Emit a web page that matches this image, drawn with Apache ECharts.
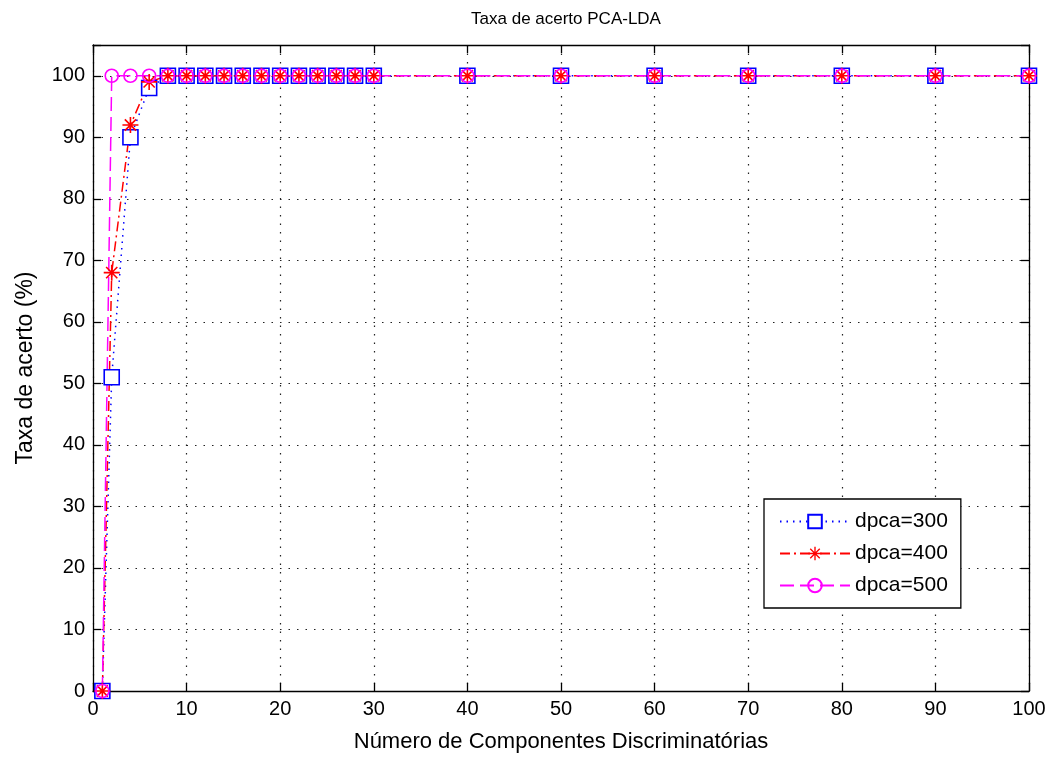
<!DOCTYPE html>
<html><head><meta charset="utf-8">
<script src="https://cdn.jsdelivr.net/npm/echarts@6/dist/echarts.min.js"></script>
<style>html,body{margin:0;padding:0;background:#fff}#c{width:1051px;height:758px}</style>
</head><body><div id="c"></div>
<script>
const xValues = [1,2,4,6,8,10,12,14,16,18,20,22,24,26,28,30,40,50,60,70,80,90,100];
const dpca300 = [0,51,90,98,100,100,100,100,100,100,100,100,100,100,100,100,100,100,100,100,100,100,100];
const dpca400 = [0,68,92,99,100,100,100,100,100,100,100,100,100,100,100,100,100,100,100,100,100,100,100];
const dpca500 = [0,100,100,100,100,100,100,100,100,100,100,100,100,100,100,100,100,100,100,100,100,100,100];
const seriesNames = ['dpca=300','dpca=400','dpca=500'];
const titleText = 'Taxa de acerto PCA-LDA';
const xName = 'Número de Componentes Discriminatórias';
const yName = 'Taxa de acerto (%)';

const star = 'path://M-1,-10 L1,-10 L1,10 L-1,10 Z M-10,-1 L10,-1 L10,1 L-10,1 Z M-6.3,-7.7 L7.7,6.3 L6.3,7.7 L-7.7,-6.3 Z M-7.7,6.3 L6.3,-7.7 L7.7,-6.3 L-6.3,7.7 Z';
const pair = arr => xValues.map((x,i)=>[x,arr[i]]);
const FONT = 'Liberation Sans, Arial, sans-serif';
const chart = echarts.init(document.getElementById('c'), null, {renderer:'canvas'});
function line(){ return {show:true,onZero:false,lineStyle:{color:'#000',width:1.3}}; }
function tick(){ return {show:true,inside:true,length:8,lineStyle:{color:'#000',width:1.3}}; }
const gridDots = {show:true,lineStyle:{color:'#222',type:[1.5,7],width:1.2}};
chart.setOption({
  animation:false,
  backgroundColor:'#fff',
  textStyle:{fontFamily:FONT},
  title:{text:titleText,left:561,top:6,textAlign:'center',textStyle:{fontFamily:FONT,fontSize:17,fontWeight:'normal',color:'#000'}},
  grid:{left:93,right:22,top:45,bottom:65},
  legend:{
    left:764,top:499,orient:'vertical',
    data:seriesNames,
    itemWidth:70,itemHeight:17,itemGap:11,
    padding:[12,13,12,15],
    borderColor:'#000',borderWidth:1.3,backgroundColor:'#fff',
    textStyle:{fontFamily:FONT,fontSize:21,color:'#000'}
  },
  xAxis:[
    {type:'value',min:0,max:100,interval:10,position:'bottom',
      name:xName,nameLocation:'middle',nameGap:40,
      nameTextStyle:{fontFamily:FONT,fontSize:22,color:'#000'},
      axisLine:line(),axisTick:tick(),
      axisLabel:{fontFamily:FONT,fontSize:20,color:'#000',margin:8},
      splitLine:gridDots},
    {type:'value',min:0,max:100,interval:10,position:'top',
      axisLine:line(),axisTick:tick(),
      axisLabel:{show:false},splitLine:{show:false}}
  ],
  yAxis:[
    {type:'value',min:0,max:105,interval:10,position:'left',
      name:yName,nameLocation:'middle',nameGap:56,nameRotate:90,
      nameTextStyle:{fontFamily:FONT,fontSize:23,color:'#000'},
      axisLine:line(),axisTick:tick(),
      axisLabel:{fontFamily:FONT,fontSize:20,color:'#000',margin:8,
        formatter:v=> v>100?'':String(v)},
      splitLine:gridDots},
    {type:'value',min:0,max:105,interval:10,position:'right',
      axisLine:line(),axisTick:tick(),
      axisLabel:{show:false},splitLine:{show:false}}
  ],
  series:[
    {name:seriesNames[0],type:'line',data:pair(dpca300),symbol:'rect',symbolSize:15,
      itemStyle:{color:'#fff',borderColor:'#0000ff',borderWidth:1.6},
      lineStyle:{color:'#0000ff',width:1.5,type:[1.5,5]},color:'#0000ff'},
    {name:seriesNames[1],type:'line',data:pair(dpca400),symbol:star,symbolSize:16,
      itemStyle:{color:'#ff0000',borderColor:'#ff0000',borderWidth:0},
      lineStyle:{color:'#ff0000',width:1.5,type:[10,4,2,4]},color:'#ff0000'},
    {name:seriesNames[2],type:'line',data:pair(dpca500),symbol:'circle',symbolSize:13,
      itemStyle:{color:'transparent',borderColor:'#ff00ff',borderWidth:1.6},
      lineStyle:{color:'#ff00ff',width:1.5,type:[14,6]},color:'#ff00ff'}
  ]
});
</script></body></html>
